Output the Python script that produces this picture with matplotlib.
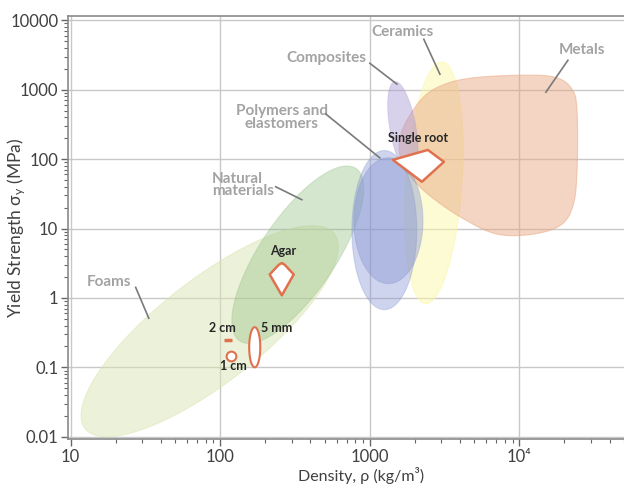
import numpy as np
import matplotlib.pyplot as plt
from matplotlib.patches import Polygon
from matplotlib.ticker import FixedLocator, LogLocator, NullFormatter

plt.rcParams['font.family'] = ['Lato', 'DejaVu Sans']

# Material families drawn as ellipses in log-log space:
# (centre density kg/m3, centre strength MPa, semi-major, semi-minor [x-decades], tilt deg)
foams = (85, 0.332, 1.057, 0.345, 38)
natural = (330, 4.2, 0.695, 0.251, 56)
ceramics = (2680, 45.6, 0.809, 0.187, 86)
composites = (1663, 280, 0.314, 0.087, 100)
elastomers = (1250, 9.48, 0.532, 0.217, 90)
polymers = (1331, 12.97, 0.421, 0.231, 90)

# Metals envelope outline (density, strength)
metals_rho = [4670, 10070, 17260, 22440, 24270, 24270, 22800, 18660, 11750, 6850,
              4000, 2520, 1850, 1590, 1637, 2157, 2940]
metals_sig = [1462, 1614, 1510, 1016, 492, 67.8, 21.3, 11.0, 8.17, 8.45,
              14.8, 29.6, 57.4, 111, 254, 684, 1122]

# Measured samples
root_rho = [1426, 2443, 3126, 2228]
root_sig = [97.5, 135.5, 91.2, 47.1]
agar_rho = [246, 258, 270, 310, 258, 214]
agar_sig = [3.0, 3.18, 3.0, 2.18, 1.09, 2.18]
mm5 = (170, 0.195, 0.134, 0.037, 90)
cm1 = (117.5, 0.145)
cm2 = (112, 0.247)

# Family labels: text, text position, leader start, leader end
family_labels = [
    ('Foams', (17.96, 1.67), (27.2, 1.42), (33.3, 0.509), 'center'),
    ('Natural\nmaterials', (87.7, 42), (235, 39.9), (351, 26.0), 'left'),
    ('Polymers and\nelastomers', (257.7, 396), (508, 445), (1167, 104), 'center'),
    ('Composites', (515, 2831), (1000, 2399), (1517, 1200), 'center'),
    ('Ceramics', (1663, 6683), (2296, 5310), (2940, 1668), 'center'),
    ('Metals', (26170, 3690), (21090, 2650), (15030, 920), 'center'),
]
sample_labels = [
    ('Single root', (2094, 201)),
    ('Agar', (262, 4.82)),
    ('2 cm', (104, 0.366)),
    ('5 mm', (239, 0.366)),
    ('1 cm', (123, 0.1044)),
]

xlim = (9.6, 5e4)
ylim = (0.0093, 11500)

fig = plt.figure(figsize=(6.24, 4.84), dpi=100)
ax = fig.add_axes([68 / 624, 45 / 484, 556 / 624, 423 / 484])
ax.set_xscale('log')
ax.set_yscale('log')
ax.set_xlim(*xlim)
ax.set_ylim(*ylim)

# ratio of pixel length of an x-decade to a y-decade
bb = ax.get_window_extent()
r = (bb.width / np.log10(xlim[1] / xlim[0])) / (bb.height / np.log10(ylim[1] / ylim[0]))


def ellipse_pts(cx, cy, a, b, ang, n=240):
    t = np.linspace(0, 2 * np.pi, n)
    u, v = a * np.cos(t), b * np.sin(t)
    th = np.radians(ang)
    du = u * np.cos(th) - v * np.sin(th)
    dv = u * np.sin(th) + v * np.cos(th)
    return np.column_stack([10 ** (np.log10(cx) + du), 10 ** (np.log10(cy) + dv * r)])


def smooth_pts(xs, ys, n=30):
    # closed Catmull-Rom curve through the points, in log space
    P = np.log10(np.column_stack([xs, ys]))
    N = len(P)
    t = np.linspace(0, 1, n, endpoint=False)[:, None]
    out = []
    for i in range(N):
        p0, p1, p2, p3 = P[i - 1], P[i], P[(i + 1) % N], P[(i + 2) % N]
        out.append(0.5 * (2 * p1 + (-p0 + p2) * t + (2 * p0 - 5 * p1 + 4 * p2 - p3) * t ** 2
                          + (-p0 + 3 * p1 - 3 * p2 + p3) * t ** 3))
    return 10 ** np.vstack(out)


def family(pts, color, alpha, z, edge_alpha=0.3):
    ax.add_patch(Polygon(pts, closed=True, facecolor=color, alpha=alpha,
                         edgecolor='none', zorder=z))
    ax.add_patch(Polygon(pts, closed=True, facecolor='none', edgecolor=color,
                         alpha=edge_alpha, lw=0.8, zorder=z))


ax.grid(True, which='major', color='#c8c8c8', lw=1, zorder=0)
ax.set_axisbelow(True)

family(ellipse_pts(*foams), '#d9e5b0', 0.48, 1, 0.5)
family(ellipse_pts(*natural), '#8cbc7c', 0.36, 2)
family(ellipse_pts(*ceramics), '#fcf8a8', 0.5, 3, 0.6)
family(smooth_pts(metals_rho, metals_sig), '#e8a682', 0.48, 4, 0.5)
family(ellipse_pts(*composites), '#aa9ad4', 0.45, 5)
family(ellipse_pts(*elastomers), '#8595d2', 0.4, 6)
family(ellipse_pts(*polymers), '#8595d2', 0.42, 7)

edge = '#e0714f'
ax.add_patch(Polygon(np.column_stack([root_rho, root_sig]), closed=True, facecolor='white',
                     edgecolor=edge, lw=1.8, joinstyle='round', zorder=10))
ax.add_patch(Polygon(np.column_stack([agar_rho, agar_sig]), closed=True, facecolor='white',
                     edgecolor=edge, lw=1.8, joinstyle='round', zorder=10))
ax.add_patch(Polygon(ellipse_pts(*mm5), closed=True, facecolor='white',
                     edgecolor=edge, lw=1.5, zorder=10))
ax.plot(*cm1, marker='o', ms=7, mfc='white', mec=edge, mew=1.5, zorder=10)
ax.plot(*cm2, marker='_', ms=6, mec=edge, mew=2.5, zorder=10)

for text, pos, p0, p1, ha in family_labels:
    ax.text(*pos, text, ha=ha, va='center', fontsize=11, fontweight='bold',
            color='#a3a3a3', linespacing=0.85, zorder=12)
    ax.plot([p0[0], p1[0]], [p0[1], p1[1]], color='#7a7a7a', lw=1.2, zorder=12)

for text, pos in sample_labels:
    ax.text(*pos, text, ha='center', va='center', fontsize=9, fontweight='bold',
            color='#262626', zorder=12)

ax.xaxis.set_major_locator(FixedLocator([10, 100, 1000, 1e4]))
ax.set_xticklabels(['10', '100', '1000', '10⁴'])
ax.yaxis.set_major_locator(FixedLocator([0.01, 0.1, 1, 10, 100, 1000, 10000]))
ax.set_yticklabels(['0.01', '0.1', '1', '10', '100', '1000', '10000'])
ax.xaxis.set_minor_locator(LogLocator(subs=np.arange(2, 10)))
ax.yaxis.set_minor_locator(LogLocator(subs=np.arange(2, 10), numticks=20))
ax.xaxis.set_minor_formatter(NullFormatter())
ax.yaxis.set_minor_formatter(NullFormatter())
ax.tick_params(axis='both', which='major', labelsize=12, labelcolor='#404040',
               color='#666666', length=5, width=1, direction='out', pad=2)
ax.tick_params(axis='both', which='minor', color='#666666', length=3, width=0.8,
               direction='out')

for side in ['left', 'bottom', 'top']:
    ax.spines[side].set_color('#8a8a8a')
    ax.spines[side].set_linewidth(1.2)
ax.spines['right'].set_visible(False)

ax.set_xlabel('Density, ρ (kg/m³)', fontsize=11.5, color='#404040', va='center')
ax.xaxis.set_label_coords(0.527, -0.086)
ax.set_ylabel('Yield Strength σ$\\mathregular{_y}$ (MPa)', fontsize=12.5,
              color='#404040', va='center')
ax.yaxis.set_label_coords(-0.093, 0.5)

fig.savefig('out.png', dpi=100)
